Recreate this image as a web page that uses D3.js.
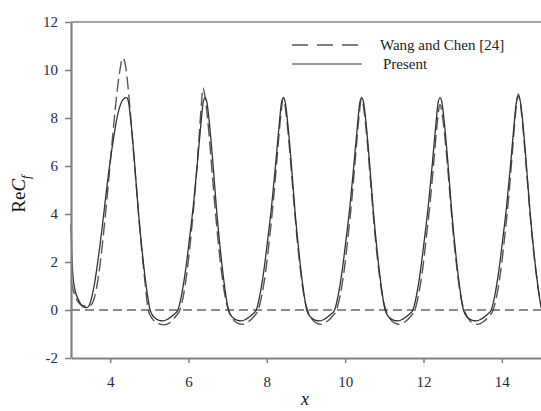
<!DOCTYPE html>
<html><head><meta charset="utf-8">
<script src="https://cdn.jsdelivr.net/npm/d3@7"></script>
<style>
html,body{margin:0;padding:0;background:#fff;}
svg{display:block;font-family:"Liberation Serif","Times New Roman",serif;}
</style></head>
<body>
<svg id="chart" width="541" height="411"></svg>
<script>
// Data
const presentX = [3.00,3.02,3.05,3.10,3.20,3.30,3.40,3.50,3.60,3.70,3.80,3.90,4.00,4.10,4.20,4.30,4.37,4.42,4.47,4.52,4.62,4.72,4.82,4.92,5.02,5.12,5.25,5.35,5.47,5.62,5.73,
  5.82,5.92,6.02,6.12,6.22,6.32,6.37,6.42,6.47,6.52,6.62,6.72,6.82,6.92,7.02,7.12,7.25,7.35,7.47,7.62,7.73,
  7.82,7.92,8.02,8.12,8.22,8.32,8.37,8.42,8.47,8.52,8.62,8.72,8.82,8.92,9.02,9.12,9.25,9.35,9.47,9.62,9.73,
  9.82,9.92,10.02,10.12,10.22,10.32,10.37,10.42,10.47,10.52,10.62,10.72,10.82,10.92,11.02,11.12,11.25,11.35,11.47,11.62,11.73,
  11.82,11.92,12.02,12.12,12.22,12.32,12.37,12.42,12.47,12.52,12.62,12.72,12.82,12.92,13.02,13.12,13.25,13.35,13.47,13.62,13.73,
  13.82,13.92,14.02,14.12,14.22,14.32,14.37,14.42,14.47,14.52,14.62,14.72,14.82,14.92,15.00];
const presentY = [3.6,2.4,1.4,0.85,0.4,0.15,0.1,0.35,1.1,2.2,3.5,4.9,6.2,7.3,8.2,8.7,8.83,8.85,8.65,8.0,6.2,4.1,2.4,1.0,0.0,-0.3,-0.43,-0.45,-0.38,-0.2,0.0,
  0.6,1.6,2.9,4.3,6.0,7.8,8.6,8.85,8.65,8.0,6.2,4.1,2.4,1.0,0.0,-0.3,-0.43,-0.45,-0.38,-0.2,0.0,
  0.6,1.6,2.9,4.3,6.0,7.8,8.6,8.85,8.65,8.0,6.2,4.1,2.4,1.0,0.0,-0.3,-0.43,-0.45,-0.38,-0.2,0.0,
  0.6,1.6,2.9,4.3,6.0,7.8,8.6,8.85,8.65,8.0,6.2,4.1,2.4,1.0,0.0,-0.3,-0.43,-0.45,-0.38,-0.2,0.0,
  0.6,1.6,2.9,4.3,6.0,7.8,8.6,8.85,8.65,8.0,6.2,4.1,2.4,1.0,0.0,-0.3,-0.43,-0.45,-0.38,-0.2,0.0,
  0.6,1.6,2.9,4.3,6.0,7.85,8.65,8.9,8.7,8.05,6.2,4.1,2.4,1.0,0.1];

const wangX = [3.00,3.10,3.20,3.30,3.45,3.55,3.65,3.75,3.85,3.95,4.05,4.15,4.25,4.32,4.40,4.50,4.60,4.70,4.80,4.90,4.97,5.07,5.20,5.38,5.55,5.68,5.78,
  5.87,5.97,6.07,6.17,6.27,6.33,6.37,6.42,6.52,6.62,6.72,6.82,6.92,7.02,7.12,7.25,7.38,7.52,7.68,7.78,
  7.87,7.97,8.07,8.17,8.27,8.35,8.42,8.49,8.57,8.67,8.77,8.87,8.97,9.04,9.14,9.27,9.38,9.52,9.68,9.78,
  9.87,9.97,10.07,10.17,10.27,10.35,10.42,10.49,10.57,10.67,10.77,10.87,10.97,11.04,11.14,11.27,11.38,11.52,11.68,11.78,
  11.87,11.97,12.07,12.17,12.27,12.35,12.42,12.49,12.57,12.67,12.77,12.87,12.97,13.04,13.14,13.27,13.38,13.52,13.68,13.78,
  13.87,13.97,14.07,14.17,14.27,14.35,14.42,14.49,14.57,14.67,14.77,14.87,14.97,15.00];
const wangY = [1.2,0.6,0.3,0.18,0.15,0.3,0.9,2.0,3.5,5.2,7.0,8.7,10.0,10.5,10.1,8.5,6.5,4.5,2.6,1.0,0.0,-0.35,-0.55,-0.62,-0.5,-0.25,0.0,
  0.6,1.7,3.2,5.0,7.2,8.6,9.25,8.9,7.4,5.4,3.5,1.9,0.7,0.0,-0.35,-0.55,-0.6,-0.5,-0.25,0.0,
  0.6,1.6,3.0,4.6,6.5,8.0,8.8,8.2,6.9,4.9,3.0,1.5,0.4,0.0,-0.35,-0.55,-0.6,-0.5,-0.25,0.0,
  0.6,1.6,3.0,4.6,6.5,8.0,8.8,8.2,6.9,4.9,3.0,1.5,0.4,0.0,-0.35,-0.55,-0.6,-0.5,-0.25,0.0,
  0.6,1.6,3.0,4.5,6.3,7.8,8.55,8.0,6.8,4.9,3.0,1.5,0.4,0.0,-0.35,-0.55,-0.6,-0.5,-0.25,0.0,
  0.6,1.6,3.0,4.6,6.6,8.2,9.0,8.4,7.0,5.0,3.1,1.6,0.5,0.3];

const xTicks = [4,6,8,10,12,14];
const yTicks = [-2,0,2,4,6,8,10,12];
const legendLabels = ["Wang and Chen [24]","Present"];

const svg = d3.select("#chart");
const x = d3.scaleLinear().domain([3,15]).range([71,541]);
const y = d3.scaleLinear().domain([-2,12]).range([358,22]);

const axisColor = "#808080";
const textColor = "#1f2a40";

// zero reference line
svg.append("line")
  .attr("x1", x(3)).attr("x2", x(15)).attr("y1", y(0)).attr("y2", y(0))
  .attr("stroke","#666").attr("stroke-width",1.3).attr("stroke-dasharray","9,5");

// top frame
svg.append("line")
  .attr("x1", x(3)).attr("x2", x(15)).attr("y1", y(12)).attr("y2", y(12))
  .attr("stroke",axisColor).attr("stroke-width",1.5);

const line = d3.line().x(d=>x(d[0])).y(d=>y(d[1])).curve(d3.curveMonotoneX);

svg.append("path")
  .datum(wangX.map((v,i)=>[v,wangY[i]]))
  .attr("d", line).attr("fill","none")
  .attr("stroke","#555").attr("stroke-width",1.4).attr("stroke-dasharray","13,5");

svg.append("path")
  .datum(presentX.map((v,i)=>[v,presentY[i]]))
  .attr("d", line).attr("fill","none")
  .attr("stroke","#333").attr("stroke-width",1.3);

// axes
const fmt = d => String(d);
const gx = svg.append("g").attr("transform",`translate(0,${y(-2)})`)
  .call(d3.axisBottom(x).tickValues(xTicks).tickFormat(fmt).tickSize(5).tickSizeOuter(0));
const gy = svg.append("g").attr("transform",`translate(${x(3)},0)`)
  .call(d3.axisLeft(y).tickValues(yTicks).tickFormat(fmt).tickSize(6).tickSizeOuter(0));

[gx,gy].forEach(g=>{
  g.attr("font-family","'Liberation Serif',serif");
  g.select(".domain").attr("stroke",axisColor).attr("stroke-width",2.2);
  g.selectAll(".tick line").attr("stroke",axisColor).attr("stroke-width",1.5);
  g.selectAll(".tick text").attr("fill",textColor)
    .style("font-family","'Liberation Serif',serif").style("font-size","15px");
});
gx.selectAll(".tick text").attr("dy","1.4em");
gy.selectAll(".tick text").attr("x",-13);

// axis titles
svg.append("text").attr("x",305).attr("y",405).attr("text-anchor","middle")
  .style("font-size","18px").style("font-style","italic").attr("fill","#111").text("x");

const yl = svg.append("text").attr("transform","translate(25,194) rotate(-90)")
  .attr("text-anchor","middle").style("font-size","19px").attr("fill","#111");
yl.append("tspan").text("Re");
yl.append("tspan").style("font-style","italic").text("C");
yl.append("tspan").style("font-style","italic").style("font-size","13px").attr("dy",5).text("f");

// legend
const lg = svg.append("g");
lg.append("line").attr("x1",292).attr("x2",358).attr("y1",45).attr("y2",45)
  .attr("stroke","#555").attr("stroke-width",1.4).attr("stroke-dasharray","16,9");
lg.append("line").attr("x1",292).attr("x2",362).attr("y1",64).attr("y2",64)
  .attr("stroke","#777").attr("stroke-width",1.3);
lg.append("text").attr("x",380).attr("y",50).style("font-size","15px").attr("fill","#222").text(legendLabels[0]);
lg.append("text").attr("x",383).attr("y",69).style("font-size","15px").attr("fill","#222").text(legendLabels[1]);
</script>
</body></html>
